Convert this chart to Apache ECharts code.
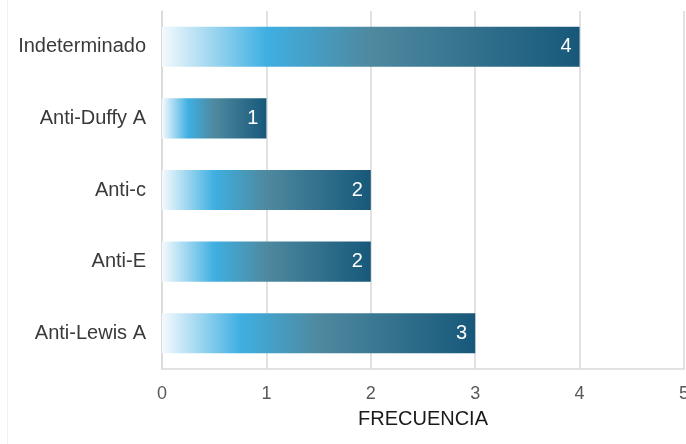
<!DOCTYPE html>
<html><head><meta charset="utf-8">
<script src="https://cdn.jsdelivr.net/npm/echarts@6/dist/echarts.min.js"></script>
<style>html,body{margin:0;padding:0;background:#fff}#c{width:686px;height:444px}</style>
</head><body><div id="c"></div>
<script>
const categories = ['Indeterminado', 'Anti-Duffy A', 'Anti-c', 'Anti-E', 'Anti-Lewis A'];
const values = [4, 1, 2, 2, 3];
const xTicks = [0, 1, 2, 3, 4, 5];
const axisName = 'FRECUENCIA';

const chart = echarts.init(document.getElementById('c'));
const font = '"Liberation Sans", Arial, sans-serif';
chart.setOption({
  animation: false,
  backgroundColor: '#fff',
  grid: { left: 162, right: 2, top: 11, bottom: 75, outerBoundsMode: 'none', containLabel: false },
  graphic: [{ type: 'line', shape: { x1: 7.5, y1: 0, x2: 7.5, y2: 444 }, style: { stroke: '#f0f0f0', lineWidth: 1 } }],
  xAxis: {
    type: 'value', min: xTicks[0], max: xTicks[xTicks.length - 1], interval: 1,
    name: axisName, nameLocation: 'middle', nameGap: 40,
    nameTextStyle: { fontFamily: font, fontSize: 20, color: '#1a1a1a' },
    axisLine: { show: true, lineStyle: { color: '#d9d9d9', width: 1.5 } },
    axisTick: { show: false },
    axisLabel: { fontFamily: font, fontSize: 18, color: '#595959', margin: 16 },
    splitLine: { show: true, lineStyle: { color: '#d9d9d9', width: 1.5 } }
  },
  yAxis: {
    type: 'category', data: categories, inverse: true,
    axisLine: { show: true, lineStyle: { color: '#d9d9d9', width: 1.5 } },
    axisTick: { show: false },
    axisLabel: { fontFamily: font, fontSize: 20, color: '#3a3a3a', margin: 16 }
  },
  series: [{
    type: 'bar', data: values, barCategoryGap: '44%',
    itemStyle: {
      color: new echarts.graphic.LinearGradient(0, 0, 1, 0, [
        { offset: 0, color: '#f4fafd' },
        { offset: 0.25, color: '#3fafe2' },
        { offset: 0.5, color: '#4e899f' },
        { offset: 1, color: '#17587a' }
      ])
    },
    label: { show: true, position: 'insideRight', distance: 8, color: '#fff', fontFamily: font, fontSize: 20 }
  }]
});
</script></body></html>
